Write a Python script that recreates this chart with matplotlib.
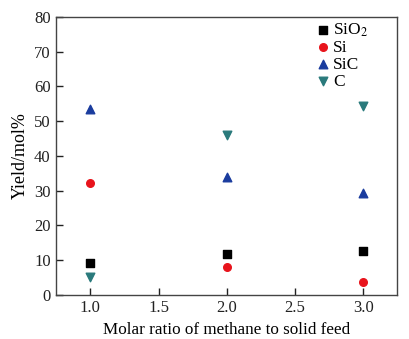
import numpy as np
import matplotlib.pyplot as plt

plt.rcParams['font.family'] = ['Liberation Serif', 'DejaVu Serif']
plt.rcParams['mathtext.fontset'] = 'stix'

# Molar ratio of methane to solid feed
ratio = [1.0, 2.0, 3.0]

# Yield (mol%) of each product
sio2 = [9.2, 11.8, 12.6]
si = [32.2, 8.1, 3.8]
sic = [53.4, 34.0, 29.3]
c = [5.2, 46.1, 54.4]

fig = plt.figure(figsize=(4.10, 3.39), dpi=100)
ax = fig.add_axes([0.137, 0.13, 0.832, 0.82])

ax.scatter(ratio, sio2, marker='s', s=28, color='black', label='SiO$_2$')
ax.scatter(ratio, si, marker='o', s=30, color='#e8141c', label='Si')
ax.scatter(ratio, sic, marker='^', s=38, color='#1a3c9e', label='SiC')
ax.scatter(ratio, c, marker='v', s=38, color='#2a7a7c', label='C')

ax.set_xlim(0.75, 3.25)
ax.set_ylim(0, 80)
ax.set_xticks([1.0, 1.5, 2.0, 2.5, 3.0])
ax.set_xticklabels(['1.0', '1.5', '2.0', '2.5', '3.0'])
ax.set_yticks(np.arange(0, 81, 10))
ax.tick_params(direction='in', length=5, width=1, labelsize=12, colors='#222222', pad=4)
for sp in ax.spines.values():
    sp.set_color('#444444')
    sp.set_linewidth(1.0)

ax.set_xlabel('Molar ratio of methane to solid feed', fontsize=12.3, labelpad=4)
ax.set_ylabel('Yield/mol%', fontsize=13)

ax.legend(loc='upper right', bbox_to_anchor=(0.935, 1.01), frameon=False, fontsize=12.5,
          handletextpad=0.1, borderaxespad=0.0, labelspacing=0.05, handlelength=1.0)

plt.savefig('out.png', dpi=100)
